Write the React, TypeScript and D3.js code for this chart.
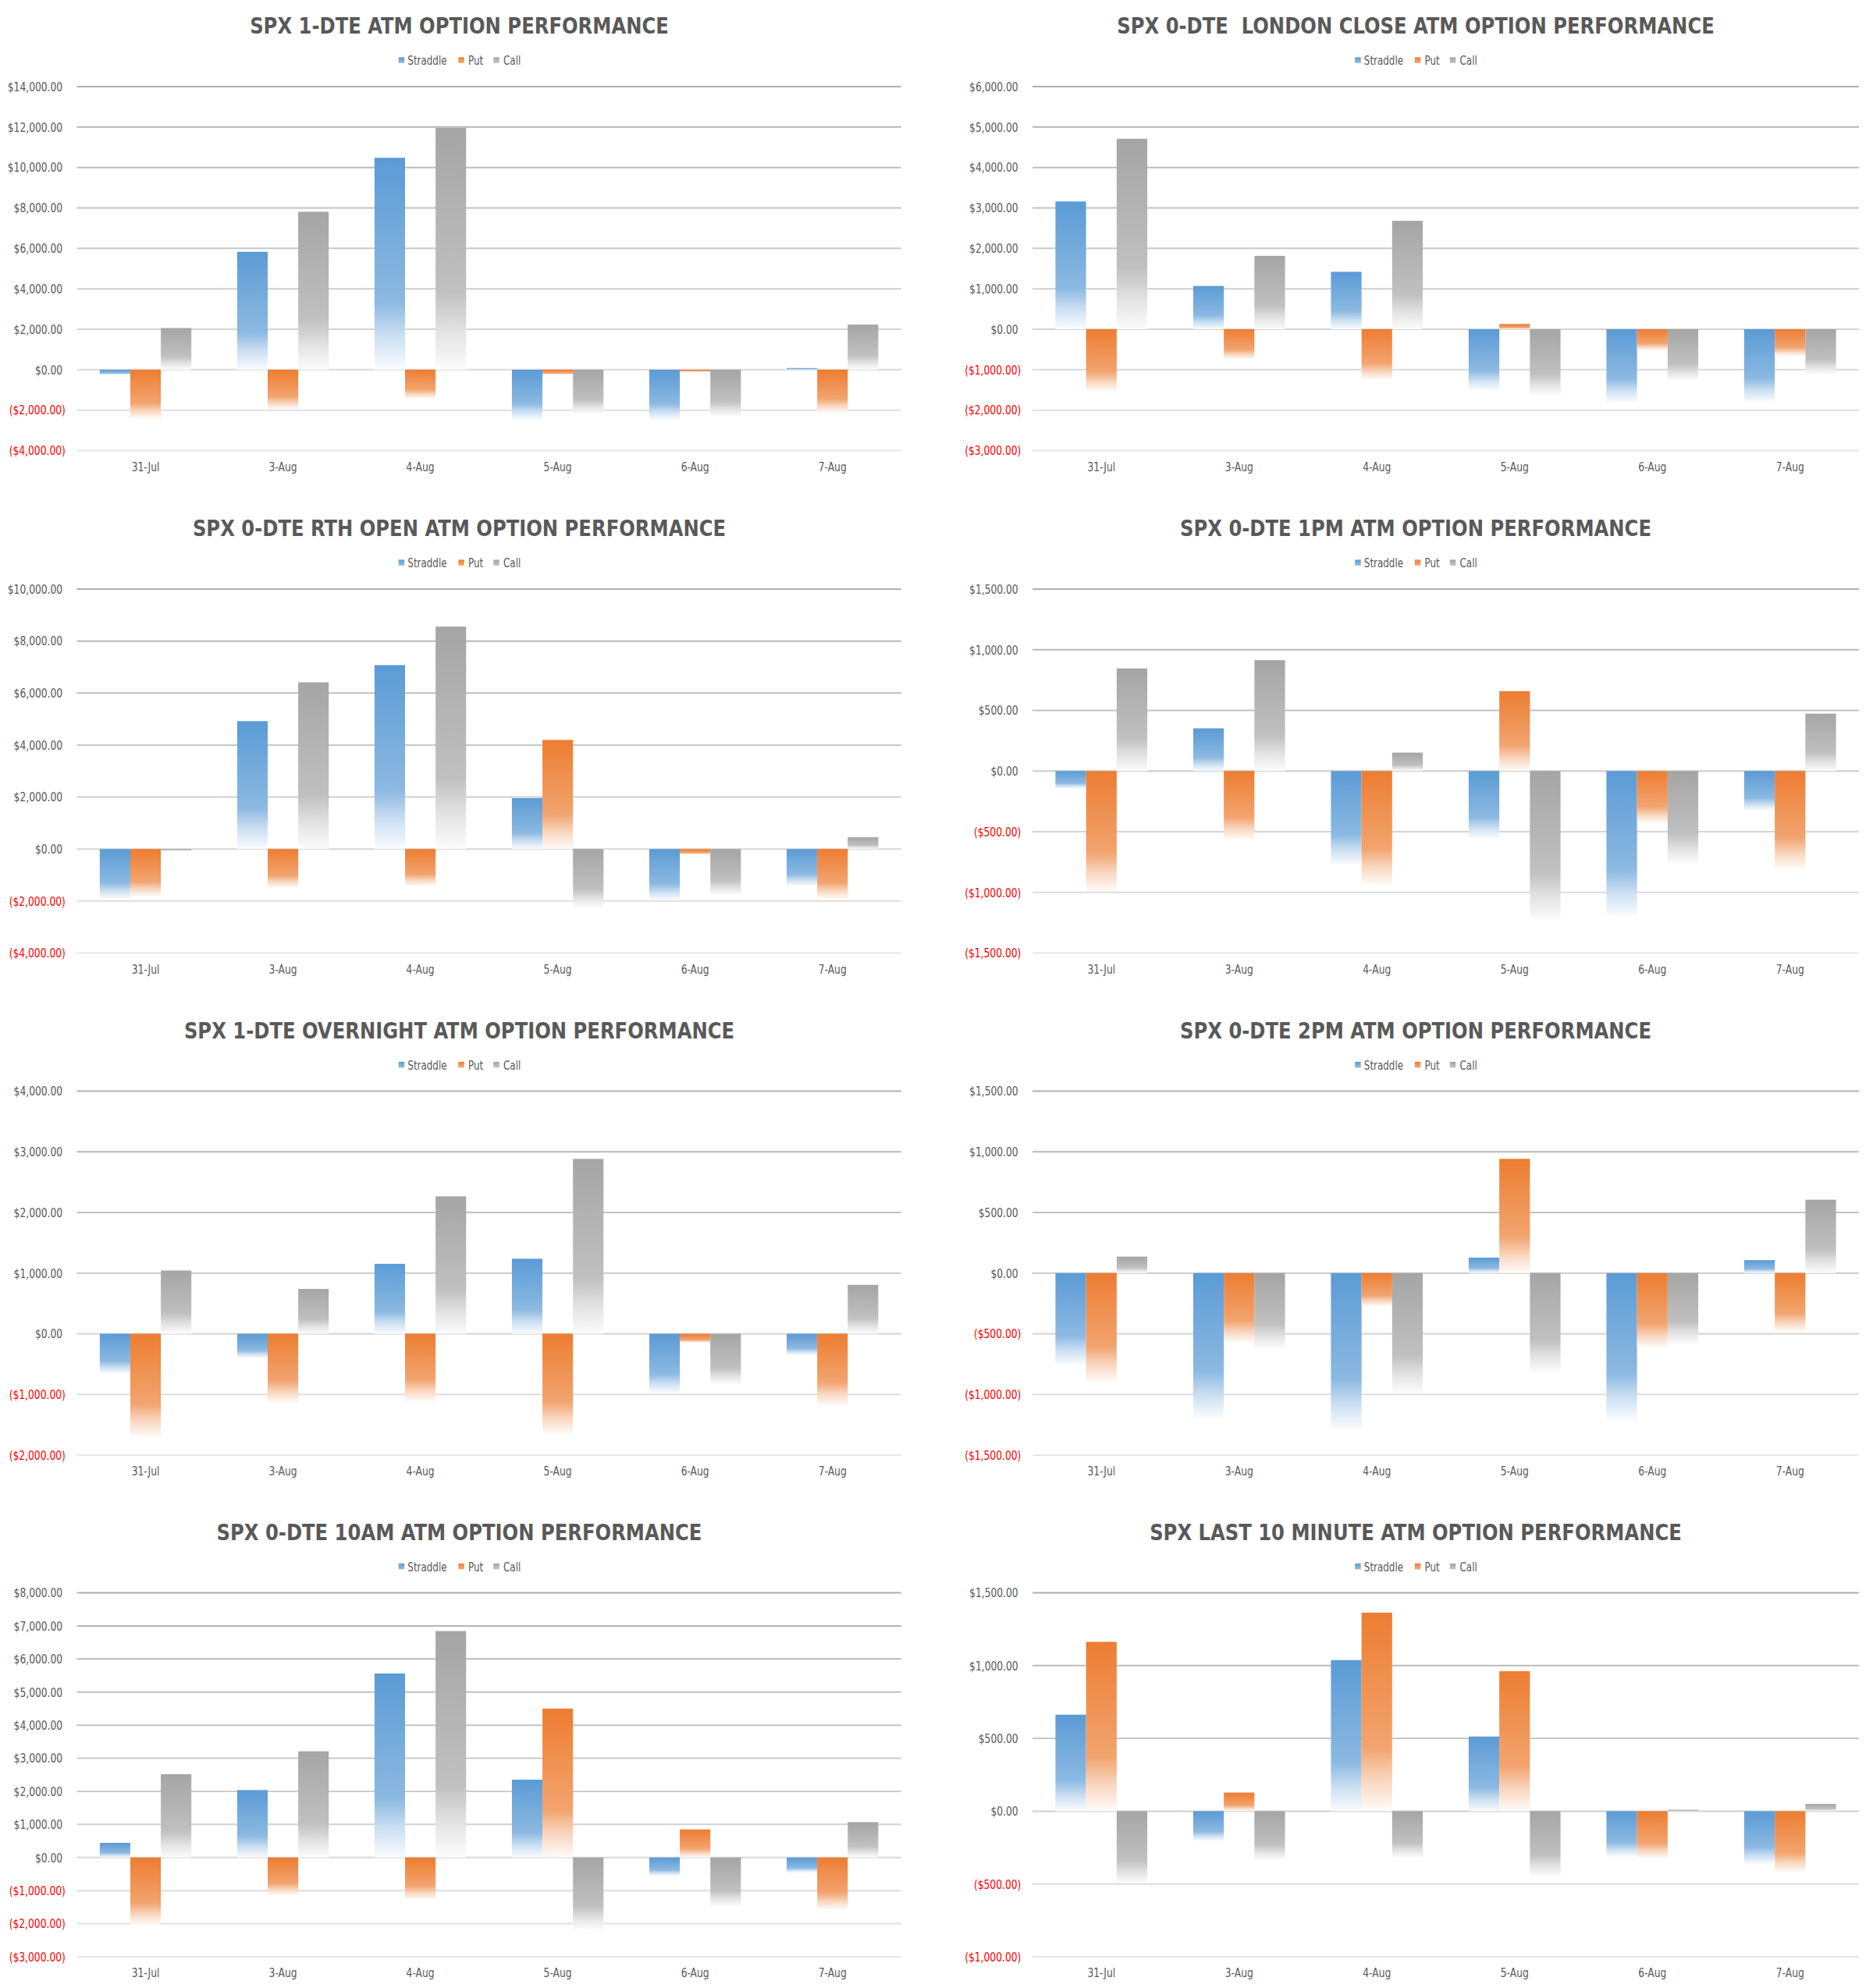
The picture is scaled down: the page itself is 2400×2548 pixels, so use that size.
import React from 'react';
import * as d3 from 'd3';

// ---- data ----
const dates = ['31-Jul', '3-Aug', '4-Aug', '5-Aug', '6-Aug', '7-Aug'];
const seriesNames = ['Straddle', 'Put', 'Call'];
const seriesColors = ['#5B9BD5', '#ED7D31', '#A5A5A5'];

const oneDteStraddle = [-250, 5830, 10480, -2470, -2470, 80];
const oneDtePut = [-2420, -1950, -1430, -250, -110, -2120];
const oneDteCall = [2060, 7810, 11960, -2180, -2310, 2230];

const londonStraddle = [3160, 1070, 1420, -1500, -1800, -1790];
const londonPut = [-1540, -740, -1240, 130, -520, -660];
const londonCall = [4710, 1815, 2680, -1630, -1265, -1110];

const rthStraddle = [-1910, 4920, 7075, 1958, -1970, -1420];
const rthPut = [-1820, -1490, -1420, 4198, -210, -1910];
const rthCall = [-70, 6414, 8556, -2250, -1760, 453];

const onePmStraddle = [-145, 352, -772, -557, -1196, -326];
const onePmPut = [-990, -562, -938, 659, -431, -807];
const onePmCall = [846, 914, 152, -1227, -762, 473];

const overnightStraddle = [-660, -400, 1153, 1237, -975, -351];
const overnightPut = [-1700, -1138, -1111, -1646, -147, -1174];
const overnightCall = [1043, 739, 2265, 2883, -834, 807];

const twoPmStraddle = [-757, -1196, -1288, 128, -1215, 107];
const twoPmPut = [-895, -573, -272, 942, -613, -482];
const twoPmCall = [136, -620, -992, -814, -586, 605];

const tenAmStraddle = [443, 2039, 5563, 2352, -553, -461];
const tenAmPut = [-2030, -1144, -1264, 4502, 849, -1568];
const tenAmCall = [2519, 3210, 6845, -2168, -1467, 1070];

const lastTenStraddle = [663, -203, 1038, 513, -314, -364];
const lastTenPut = [1163, 128, 1364, 962, -322, -418];
const lastTenCall = [-496, -335, -318, -444, 10, 50];

// [min, max, step]
const oneDteAxis = [-4000, 14000, 2000];
const londonAxis = [-3000, 6000, 1000];
const rthAxis = [-4000, 10000, 2000];
const onePmAxis = [-1500, 1500, 500];
const overnightAxis = [-2000, 4000, 1000];
const twoPmAxis = [-1500, 1500, 500];
const tenAmAxis = [-3000, 8000, 1000];
const lastTenAxis = [-1000, 1500, 500];

const panels = [
  { title: 'SPX 1-DTE ATM OPTION PERFORMANCE', axis: oneDteAxis, values: [oneDteStraddle, oneDtePut, oneDteCall] },
  { title: 'SPX 0-DTE  LONDON CLOSE ATM OPTION PERFORMANCE', axis: londonAxis, values: [londonStraddle, londonPut, londonCall] },
  { title: 'SPX 0-DTE RTH OPEN ATM OPTION PERFORMANCE', axis: rthAxis, values: [rthStraddle, rthPut, rthCall] },
  { title: 'SPX 0-DTE 1PM ATM OPTION PERFORMANCE', axis: onePmAxis, values: [onePmStraddle, onePmPut, onePmCall] },
  { title: 'SPX 1-DTE OVERNIGHT ATM OPTION PERFORMANCE', axis: overnightAxis, values: [overnightStraddle, overnightPut, overnightCall] },
  { title: 'SPX 0-DTE 2PM ATM OPTION PERFORMANCE', axis: twoPmAxis, values: [twoPmStraddle, twoPmPut, twoPmCall] },
  { title: 'SPX 0-DTE 10AM ATM OPTION PERFORMANCE', axis: tenAmAxis, values: [tenAmStraddle, tenAmPut, tenAmCall] },
  { title: 'SPX LAST 10 MINUTE ATM OPTION PERFORMANCE', axis: lastTenAxis, values: [lastTenStraddle, lastTenPut, lastTenCall] },
];

// ---- layout ----
const W = 2400;
const H = 2548;
const FONT = "'DejaVu Sans Condensed', 'DejaVu Sans', sans-serif";
const TEXT = '#595959';
const SQUEEZE = 0.84; // Calibri in the source image is narrower than DejaVu
const colLayout = [
  { left: 98.5, right: 1154.7, cx: 588.5 },
  { left: 1323, right: 2382, cx: 1814 },
];
const rowY = [0, 644, 1287.5, 1930.5];

const money = d3.format('$,.2f');
const fmt = (v: number) => (v < 0 ? `(${money(-v)})` : money(v));
const gridColor = d3.interpolateRgb('#b0b0b0', '#e6e6e6');
const fade = (c: string, t: number) => d3.interpolateRgb(c, '#ffffff')(t);

const Label = ({ x, y, sx = SQUEEZE, size = 16.3, anchor = 'start', fill = TEXT, bold = false, children }: any) => (
  <text
    transform={`translate(${x},${y}) scale(${sx},1)`}
    textAnchor={anchor}
    fontFamily={FONT}
    fontSize={size}
    fontWeight={bold ? 'bold' : 'normal'}
    fill={fill}
    style={{ whiteSpace: 'pre' }}
  >
    {children}
  </text>
);

const Panel = ({ p, i }: { p: typeof panels[number]; i: number }) => {
  const col = colLayout[i % 2];
  const y0 = rowY[Math.floor(i / 2)];
  const [lo, hi, step] = p.axis;
  const top = y0 + 111;
  const bottom = y0 + 577.5;

  const y = d3.scaleLinear().domain([lo, hi]).range([bottom, top]);
  // Excel gap width 150%: each category band holds 4.5 bar widths
  const x0 = d3.scaleBand().domain(dates).range([col.left, col.right]);
  const band = x0.bandwidth();
  const barW = band / 4.5;
  const x1 = d3.scaleBand().domain(seriesNames).range([barW * 0.75, barW * 3.75]);
  const ticks = d3.range(lo, hi + step / 2, step);

  const legendOffsets = [
    { m: -77.8, t: -66.2 },
    { m: -1.2, t: 11.5 },
    { m: 43.8, t: 56.5 },
  ];

  return (
    <g>
      <Label x={col.cx} y={y0 + 43} sx={0.93} size={29} anchor="middle" bold>
        {p.title}
      </Label>

      {seriesNames.map((s, k) => (
        <g key={s}>
          <rect x={col.cx + legendOffsets[k].m} y={y0 + 73.4} width={7.5} height={7.5} fill={`url(#lg-${k})`} />
          <Label x={col.cx + legendOffsets[k].t} y={y0 + 83} size={15.8}>
            {s}
          </Label>
        </g>
      ))}

      {ticks.map((t) => (
        <g key={t}>
          <line
            x1={col.left}
            x2={col.right}
            y1={y(t)}
            y2={y(t)}
            stroke={gridColor((y(t) - top) / (bottom - top))}
            strokeWidth={2}
          />
          <Label
            x={t < 0 ? col.left - 14.6 : col.left - 18.3}
            y={y(t) + 5.8}
            anchor="end"
            fill={t < 0 ? '#FF0000' : TEXT}
          >
            {fmt(t)}
          </Label>
        </g>
      ))}

      {dates.map((d, j) => (
        <g key={d}>
          {p.values.map((vals, k) => {
            const v = vals[j];
            const yTop = y(Math.max(0, v));
            const yBot = y(Math.min(0, v));
            return (
              <rect
                key={k}
                x={(x0(d) ?? 0) + (x1(seriesNames[k]) ?? 0)}
                y={yTop}
                width={x1.bandwidth()}
                height={Math.max(0.5, yBot - yTop)}
                fill={`url(#bar-${k})`}
              />
            );
          })}
          <Label x={(x0(d) ?? 0) + band / 2} y={y0 + 603.5} anchor="middle">
            {d}
          </Label>
        </g>
      ))}
    </g>
  );
};

export default function App() {
  return (
    <div style={{ position: 'absolute', left: 0, top: 0 }}>
      <svg width={W} height={H} viewBox={`0 0 ${W} ${H}`} style={{ display: 'block', background: '#fff' }}>
        <defs>
          {seriesColors.map((c, k) => (
            <linearGradient key={`bar-${k}`} id={`bar-${k}`} x1="0" y1="0" x2="0" y2="1">
              <stop offset="0" stopColor={c} />
              <stop offset="0.68" stopColor={fade(c, 0.3)} />
              <stop offset="0.84" stopColor={fade(c, 0.68)} />
              <stop offset="1" stopColor={fade(c, 0.97)} />
            </linearGradient>
          ))}
          {seriesColors.map((c, k) => (
            <linearGradient key={`lg-${k}`} id={`lg-${k}`} x1="0" y1="0" x2="0" y2="1">
              <stop offset="0" stopColor={c} />
              <stop offset="1" stopColor={fade(c, 0.35)} />
            </linearGradient>
          ))}
        </defs>
        <rect width={W} height={H} fill="#fff" />
        {panels.map((p, i) => (
          <Panel key={p.title} p={p} i={i} />
        ))}
      </svg>
    </div>
  );
}
